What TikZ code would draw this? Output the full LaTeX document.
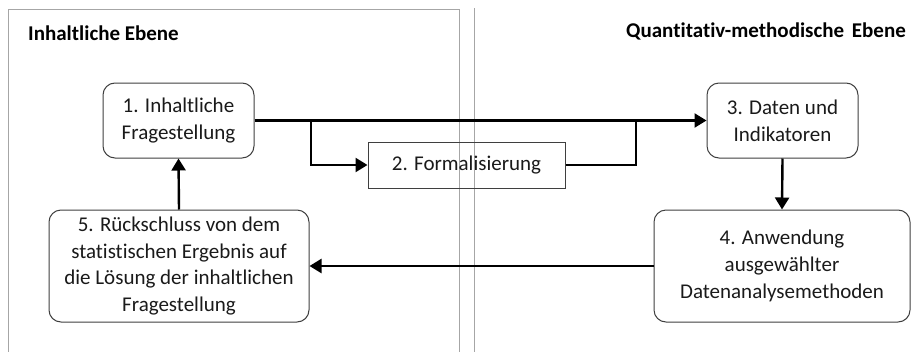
\documentclass[tikz,border=0pt]{standalone}
\usepackage{fontspec}
\setmainfont[Ligatures={NoCommon,NoContextual}]{Carlito}
\usetikzlibrary{arrows.meta}
\definecolor{frame}{HTML}{A6A6A6}
\definecolor{boxline}{HTML}{3F3F3F}
\definecolor{ink}{HTML}{1A1A1A}
\tikzset{
  x=1pt, y=-1pt,
  stage/.style={draw=boxline, line width=1pt, rounded corners=12pt, align=center,
    text=ink, inner sep=0pt, font=\fontsize{21}{26.7}\selectfont},
  plainbox/.style={stage, rounded corners=0pt},
  flow/.style={line width=2.4pt, -{Triangle[length=12pt,width=14pt]}},
  link/.style={line width=2.4pt},
  title/.style={font=\bfseries\fontsize{21}{24}\selectfont, text=black, inner sep=0pt},
  lane/.style={draw=frame, line width=1pt}
}
\begin{document}
\begin{tikzpicture}
\useasboundingbox (0,0) rectangle (912,351);
\fill[white] (0,0) rectangle (912,351);

% lanes
\draw[lane] (8,352) -- (8,9) -- (459,9) -- (459,352);
\draw[lane] (474.5,352) -- (474.5,8);
\node[title, anchor=west] (tl) at (28,33) {Inhaltliche Ebene};
\node[title, anchor=east] (tr) at (906,31) {Quantitativ-methodische\hspace{3pt} Ebene};

% stages
\node[stage, minimum width=151pt, minimum height=75pt] (s1) at (178.5,120.5) {1. Inhaltliche\\Fragestellung};
\node[plainbox, minimum width=197pt, minimum height=46pt] (s2) at (466.5,165) {2. Formalisierung};
\node[stage, minimum width=151pt, minimum height=75pt] (s3) at (782.5,120.5) {3. Daten und\\Indikatoren};
\node[stage, minimum width=256pt, minimum height=112pt] (s4) at (782,266) {4. Anwendung\\ausgewählter\\Datenanalysemethoden};
\node[stage, minimum width=260pt, minimum height=112pt] (s5) at (179,266) {5. Rückschluss von dem\\statistischen Ergebnis auf\\die Lösung der inhaltlichen\\Fragestellung};

% connectors
\coordinate (split) at (311,120.5);
\coordinate (join) at (636,120.5);
\draw[flow] (s1.east) -- (s3.west);
\draw[flow] (split) |- (s2.west);
\draw[link] (s2.east) -| (join);
\draw[flow] (s3.south) -- (s4.north);
\draw[flow] (s4.west) -- (s5.east);
\draw[flow] (s5.north) -- (s1.south);
\end{tikzpicture}
\end{document}
